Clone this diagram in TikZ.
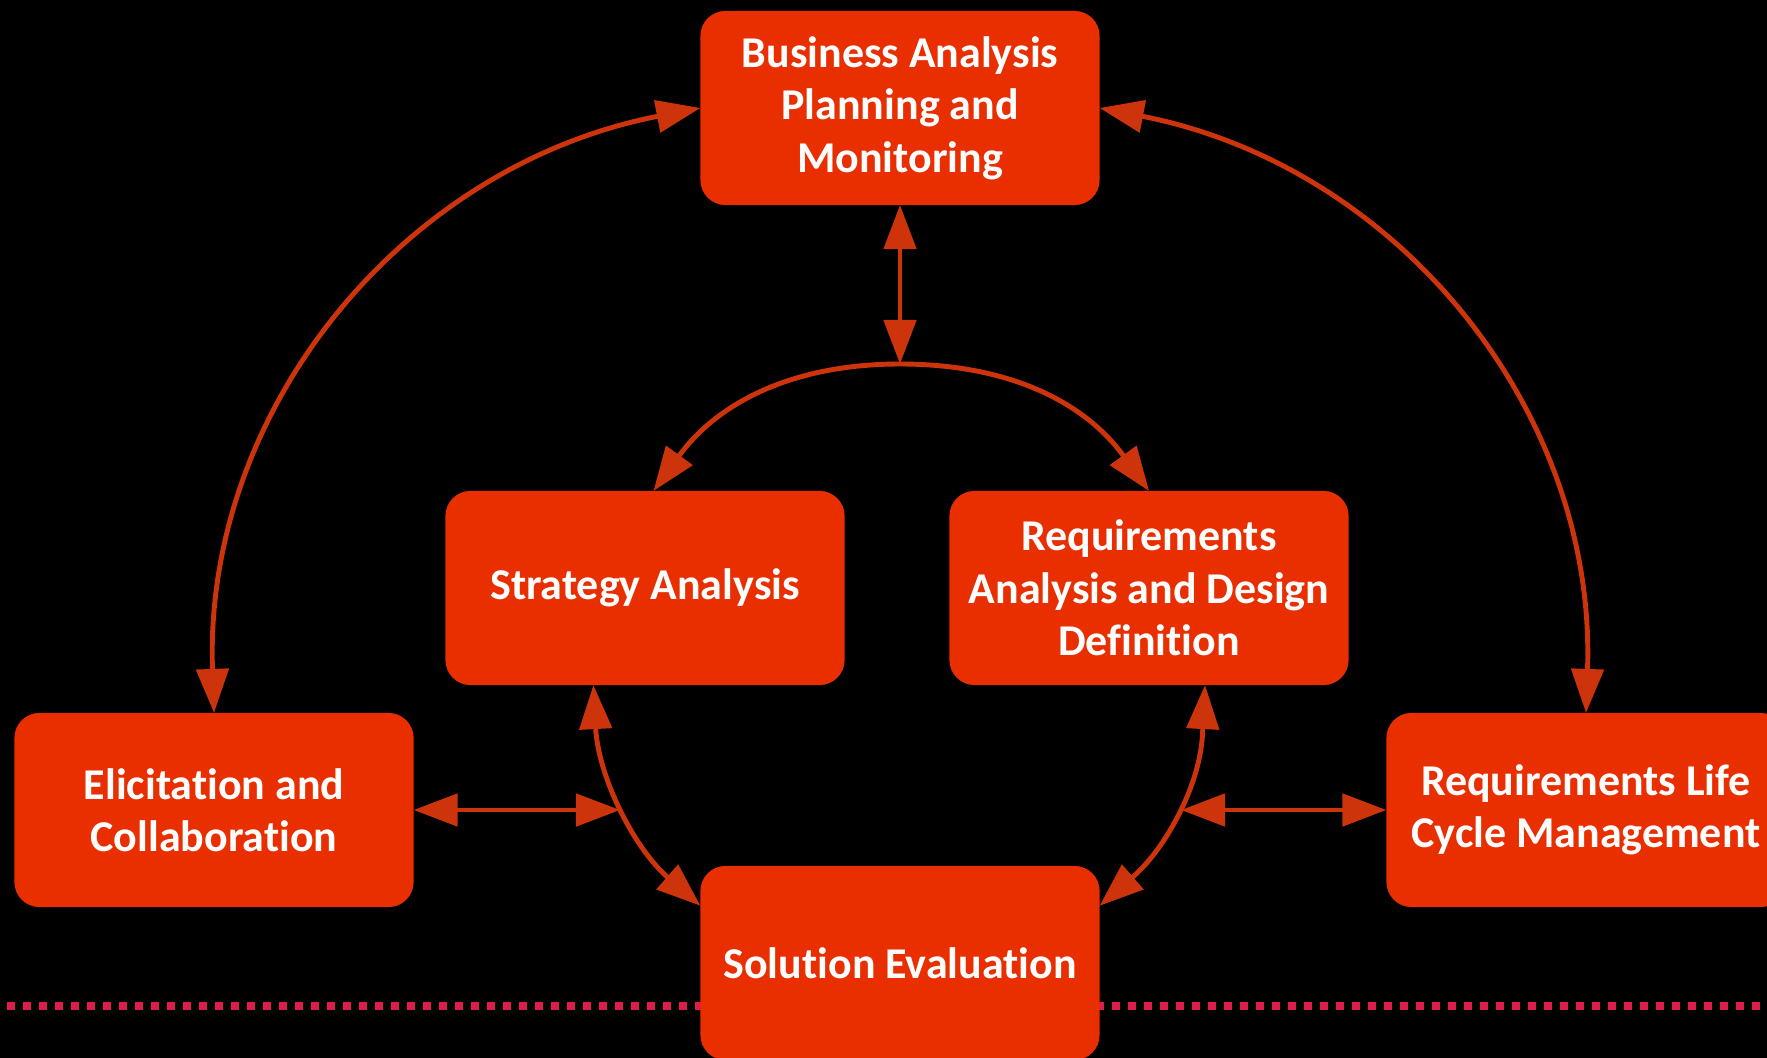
\documentclass[tikz,border=0pt]{standalone}
\usepackage{fontspec}
\setmainfont{Carlito}[Ligatures=NoCommon]
\usetikzlibrary{arrows.meta}

\definecolor{boxred}{RGB}{233,47,0}
\definecolor{linkred}{RGB}{205,52,12}
\definecolor{dotred}{RGB}{220,30,75}

\begin{document}
\begin{tikzpicture}[x=0.01cm,y=0.01cm,>={Triangle[length=0.44cm,width=0.32cm]},
				link/.style={linkred,line width=1.4pt}]
				\tikzstyle{area}=[shape=rectangle,rounded corners=0.25cm,fill=boxred,text=white,
				font=\bfseries\fontsize{12.5}{14.9}\selectfont,align=center,
				minimum width=3.99cm,minimum height=1.94cm,inner sep=0pt,outer sep=0pt]
				
				\useasboundingbox (0,0) rectangle (1767,-1058);
				\fill[black] (0,0) rectangle (1767,-1058);
				\clip (0,0) rectangle (1767,-1058);
				
				% dotted base line
				\draw[dotred,line width=0.08cm,dash pattern=on 0.08cm off 0.08cm] (7,-1006) -- (1767,-1006);
				
				\node[area] (bapm)  at (900,-108)  {Business Analysis\\Planning and\\Monitoring};
				\node[area] (strat) at (645,-588)  {Strategy Analysis};
				\node[area] (radd)  at (1149,-588) {Requirements\\Analysis and Design\\Definition};
				\node[area] (elic)  at (214,-810)  {Elicitation and\\Collaboration};
				\node[area] (rlcm)  at (1586,-810) {Requirements Life\\Cycle Management};
				\node[area] (se)    at (900,-963)  {Solution Evaluation};
				
				\coordinate (hub)   at (900,-364);
				\coordinate (lmeet) at (620,-810);
				\coordinate (rmeet) at (1181,-810);
				
				% outer ring
				\draw[link,<->] (bapm.west) to[out=191,in=92] (elic.north);
				\draw[link,<->] (bapm.east) to[out=-11,in=88] (rlcm.north);
				
				% inner ring
				\draw[link,<->] (bapm.south) -- (hub);
				\draw[link,<->] (strat.85) to[out=54,in=180] (hub) to[out=0,in=126] (radd.north);
				\draw[link,<->] (strat.242) to[out=273,in=116] (lmeet) to[out=296,in=139] (se.164);
				\draw[link,<->] (radd.-60) to[out=267,in=64] (rmeet) to[out=244,in=41] (se.16);
				\draw[link,<->] (elic.east) -- (lmeet);
				\draw[link,<->] (rmeet) -- (rlcm.west);
\end{tikzpicture}
\end{document}
